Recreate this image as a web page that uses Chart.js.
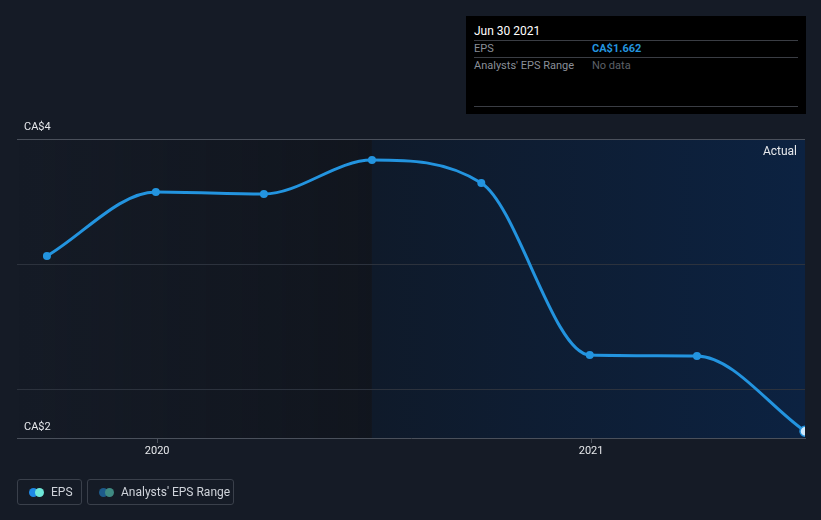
<!DOCTYPE html>
<html>
<head>
<meta charset="utf-8">
<script src="https://cdn.jsdelivr.net/npm/chart.js@4"></script>
<style>
  html, body { margin: 0; padding: 0; background: #151b26; }
  body { width: 821px; height: 520px; position: relative; overflow: hidden; font-family: Roboto, "Open Sans", sans-serif; }
  #wrap { position: absolute; left: 0; top: 0; width: 821px; height: 520px; }
  .tip { position: absolute; left: 466px; top: 16px; width: 340px; height: 98px; background: #000; }
  .tip .row { position: absolute; left: 8px; right: 8px; font-size: 11px; }
  .tip .sep { position: absolute; left: 8px; right: 8px; height: 1px; background: #3a3d44; }
  .legend { position: absolute; top: 479px; height: 26px; border: 1px solid #3a404b; border-radius: 3px; box-sizing: border-box; color: #cfd3da; font-size: 12px; line-height: 24px; }
  .dot { position: absolute; top: 8px; width: 9px; height: 9px; border-radius: 50%; }
</style>
</head>
<body>
<div id="wrap"><canvas id="grafica" width="821" height="520"></canvas></div>

<div class="tip">
  <div class="row" style="top:8px;color:#fff;font-size:12px">Jun 30 2021</div>
  <div class="sep" style="top:24px"></div>
  <div class="row" style="top:26px;color:#8a8f98">EPS<span style="position:absolute;left:118px;color:#2394df;font-weight:bold">CA$1.662</span></div>
  <div class="sep" style="top:41px"></div>
  <div class="row" style="top:43px;color:#8a8f98">Analysts' EPS Range<span style="position:absolute;left:118px;color:#5d6168">No data</span></div>
  <div class="sep" style="top:90px"></div>
</div>

<div class="legend" style="left:17px;width:65px">
  <span class="dot" style="left:11px;background:#1e88e5"></span>
  <span class="dot" style="left:17px;background:#6ee7d8"></span>
  <span style="position:absolute;left:33px">EPS</span>
</div>
<div class="legend" style="left:87px;width:147px">
  <span class="dot" style="left:11px;background:#1d5a8a"></span>
  <span class="dot" style="left:17px;background:#3f8a82"></span>
  <span style="position:absolute;left:33px">Analysts' EPS Range</span>
</div>

<script>
// fechas como año decimal (fin de cada trimestre)
const fechas = [2019.746, 2019.997, 2020.246, 2020.495, 2020.747, 2020.997, 2021.244, 2021.493];
const eps = [3.064, 3.576, 3.56, 3.832, 3.648, 2.272, 2.264, 1.662];
const ticksX = [2020, 2021];
const etiquetasX = ["2020", "2021"];
const ticksY = [2, 3, 4];
const etiquetasY = ["CA$4", "CA$2"];
const inicioPasado = 2019.677;
const inicioActual = 2020.495;
const finActual = 2021.493;

const fondos = {
  id: "fondos",
  beforeDraw(chart) {
    const { ctx, chartArea, scales } = chart;
    const x1 = scales.x.getPixelForValue(inicioActual);
    const x2 = chartArea.right;
    const h = chartArea.bottom - chartArea.top;
    ctx.save();
    let g = ctx.createLinearGradient(chartArea.left, 0, x1, 0);
    g.addColorStop(0, "rgba(10,12,16,0.0)");
    g.addColorStop(1, "rgba(10,12,16,0.35)");
    ctx.fillStyle = g;
    ctx.fillRect(chartArea.left, chartArea.top, x1 - chartArea.left, h);
    g = ctx.createLinearGradient(x1, 0, x2, 0);
    g.addColorStop(0, "#0f1a2a");
    g.addColorStop(1, "#0c2241");
    ctx.fillStyle = g;
    ctx.fillRect(x1, chartArea.top, x2 - x1, h);
    ctx.restore();
  },
  afterDraw(chart) {
    const { ctx, chartArea } = chart;
    ctx.save();
    ctx.font = "11px Roboto";
    ctx.fillStyle = "#e6e8eb";
    ctx.textBaseline = "middle";
    ctx.textAlign = "left";
    ctx.fillText(etiquetasY[0], 24, chartArea.top - 12);
    ctx.fillText(etiquetasY[1], 24, chartArea.bottom - 11);
    ctx.textAlign = "right";
    ctx.font = "12px Roboto";
    ctx.fillText("Actual", chartArea.right - 8, chartArea.top + 13);
    ctx.restore();
  }
};

new Chart(document.getElementById("grafica"), {
  type: "line",
  data: {
    datasets: [{
      label: "EPS",
      data: fechas.map((f, i) => ({ x: f, y: eps[i] })),
      borderColor: "#2394df",
      borderWidth: 3,
      cubicInterpolationMode: "monotone",
      pointRadius: fechas.map((f, i) => i === fechas.length - 1 ? 5 : 4),
      pointBackgroundColor: fechas.map((f, i) => i === fechas.length - 1 ? "#cfe8fb" : "#2394df"),
      pointBorderColor: "#2394df",
      pointBorderWidth: fechas.map((f, i) => i === fechas.length - 1 ? 1.5 : 0)
    }]
  },
  options: {
    responsive: false,
    animation: false,
    layout: { padding: { left: 17, right: 16, top: 139, bottom: 52 } },
    plugins: { legend: { display: false }, tooltip: { enabled: false } },
    scales: {
      x: {
        type: "linear",
        min: inicioPasado,
        max: finActual,
        afterBuildTicks: s => { s.ticks = ticksX.map(v => ({ value: v })); },
        afterFit: s => { s.height = 30; },
        ticks: {
          color: "#e6e8eb",
          font: { family: "Roboto", size: 11 },
          padding: 2,
          maxRotation: 0,
          callback: (v) => etiquetasX[ticksX.indexOf(v)]
        },
        grid: { display: true, drawOnChartArea: false, tickLength: 5, color: "#4a505b" },
        border: { color: "#4a505b", width: 1 }
      },
      y: {
        min: 1.608,
        max: 4,
        afterBuildTicks: s => { s.ticks = ticksY.map(v => ({ value: v })); },
        afterFit: s => { s.width = 0; },
        ticks: { display: false },
        grid: { color: c => c.tick && c.tick.value === 4 ? "#4a505b" : "#2c323d", drawTicks: false },
        border: { display: false }
      }
    }
  },
  plugins: [fondos]
});
</script>
</body>
</html>
